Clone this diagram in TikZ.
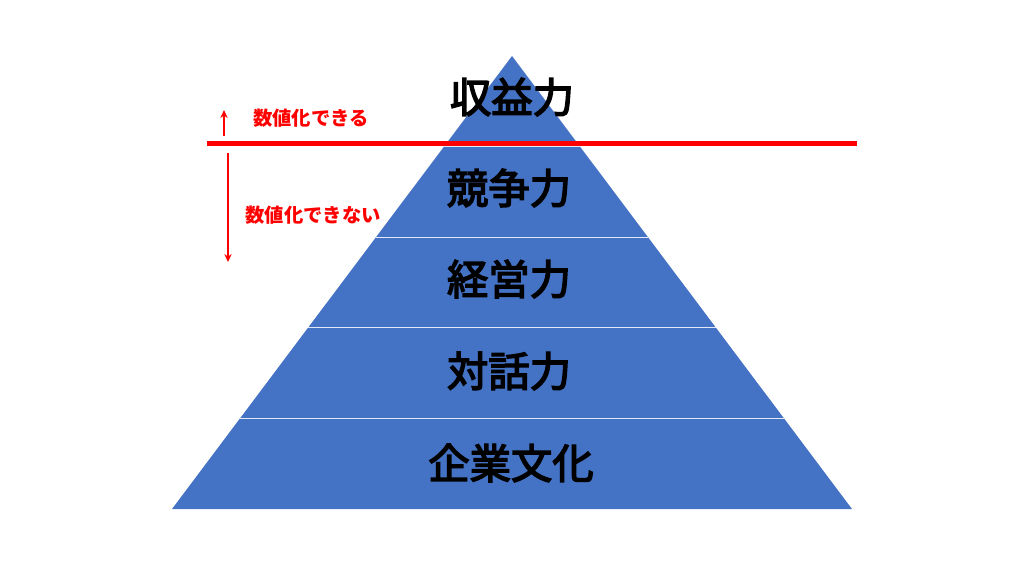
\documentclass[tikz,border=0pt]{standalone}
\usepackage{fontspec}
\setmainfont{Noto Sans CJK JP}
\newfontfamily\layerfont[FakeBold=3.5]{Noto Sans CJK JP}
\usetikzlibrary{arrows.meta, calc}
\usepackage{xcolor}
\definecolor{pyrblue}{HTML}{4472C4}
\definecolor{markred}{HTML}{FF0000}

\begin{document}
\begin{tikzpicture}[x=0.75pt, y=-0.75pt,
    layer/.style={font=\layerfont\fontsize{31}{31}\selectfont, text=black},
    redtext/.style={font=\fontsize{14.5}{14.5}\selectfont\bfseries, text=markred},
    redarrow/.style={draw=markred, line width=1.5pt, -{Stealth[length=6pt, width=5.5pt]}}]
        \useasboundingbox (0, 0) rectangle (1024, 576);

        % Corners of the pyramid
        \coordinate (apex) at (512, 56);
        \coordinate (baseL) at (172, 509);
        \coordinate (baseR) at (852, 509);

        % Fill the pyramid
        \fill[pyrblue] (apex) -- (baseL) -- (baseR) -- cycle;

        % Lines between the layers
        \foreach \f in {0.2, 0.4, 0.6, 0.8}
            \draw[white!85!pyrblue, line width=0.9pt] ($(apex)!\f!(baseL)$) -- ($(apex)!\f!(baseR)$);

        % Label the layers
        \node[layer] (profit) at (512, 97) {収益力};
        \node[layer] (compete) at (509, 188) {競争力};
        \node[layer] (manage) at (509, 279) {経営力};
        \node[layer] (dialog) at (509, 371) {対話力};
        \node[layer] (culture) at (511, 463) {企業文化};

        % Red border line
        \coordinate (lineL) at (207, 143.5);
        \coordinate (lineR) at (857, 143.5);
        \draw[markred, line width=3.4pt] (lineL) -- (lineR);

        % Arrows above and below the line
        \coordinate (upFrom) at (224, 136);
        \coordinate (upTo) at (224, 110);
        \coordinate (downFrom) at (228, 153);
        \coordinate (downTo) at (228, 262);
        \draw[redarrow] (upFrom) -- (upTo);
        \draw[redarrow] (downFrom) -- (downTo);

        % Label the arrows
        \node[redtext] (measurable) at (311, 118.5) {数値化できる};
        \node[redtext] (notmeasurable) at (313, 215) {数値化できない};
    \end{tikzpicture}
\end{document}
